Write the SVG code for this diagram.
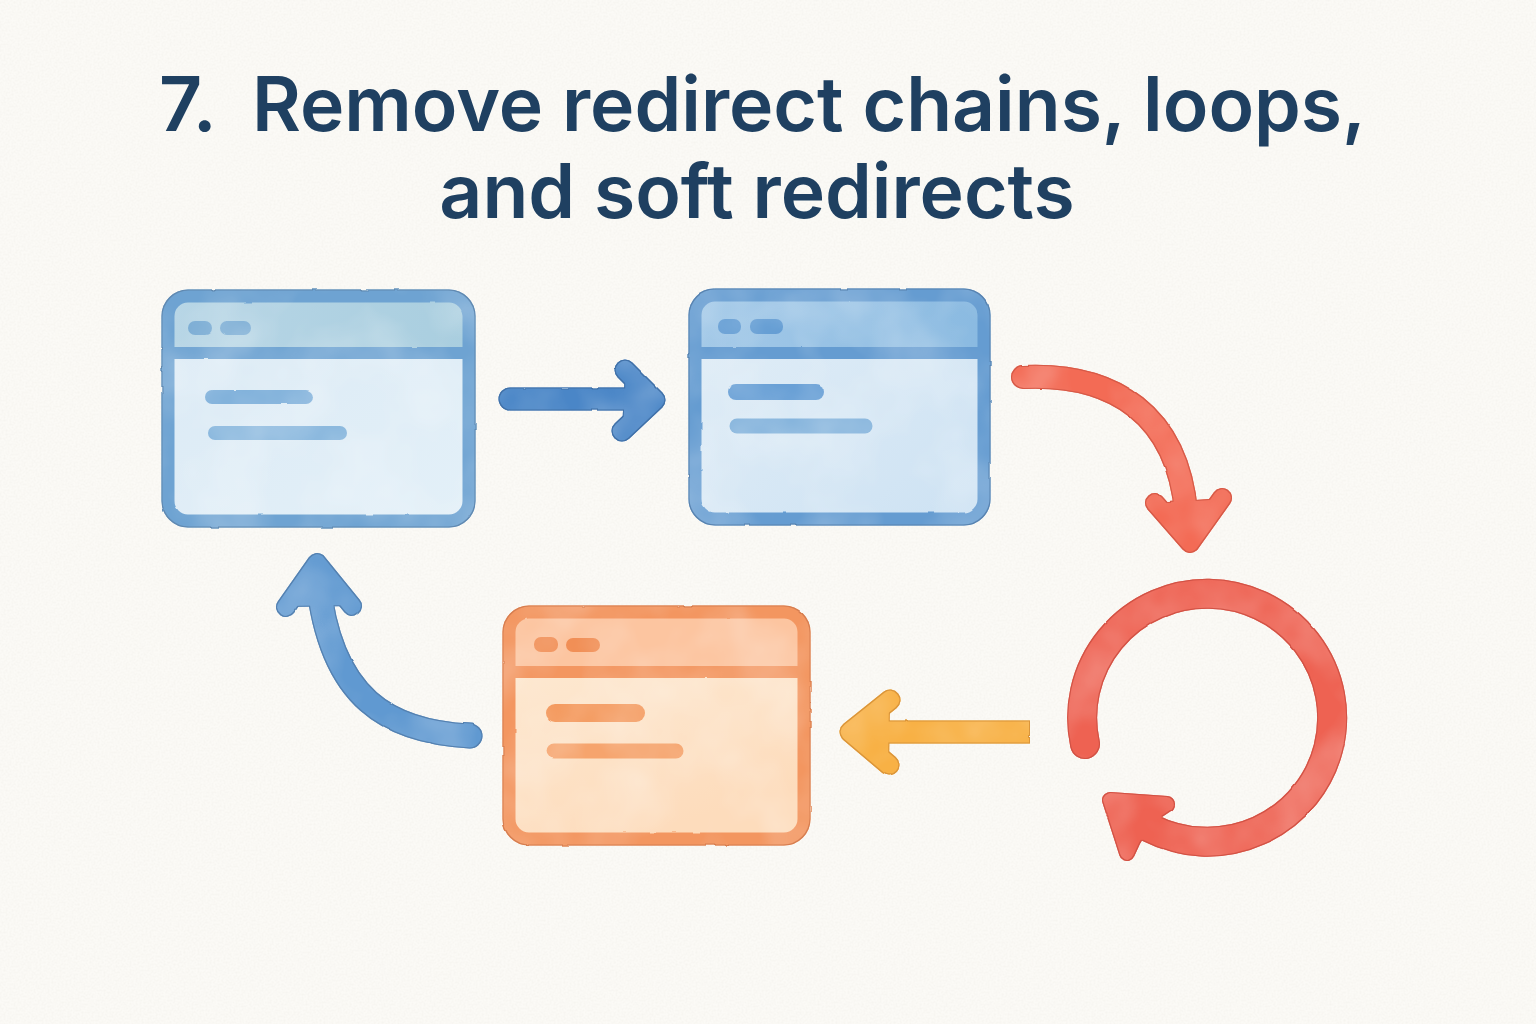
<svg xmlns="http://www.w3.org/2000/svg" width="1536" height="1024" viewBox="0 0 1536 1024">
<defs>
<linearGradient id="hb1" x1="0" x2="1" y1="0" y2="0"><stop offset="0" stop-color="#b8d6e6"/><stop offset="1" stop-color="#a9cedf"/></linearGradient>
<linearGradient id="hb2" x1="0" x2="1" y1="0" y2="0"><stop offset="0" stop-color="#a3c9e8"/><stop offset="1" stop-color="#8abae1"/></linearGradient>
<linearGradient id="b1" x1="0" x2="1" y1="0" y2="1"><stop offset="0" stop-color="#dbeaf5"/><stop offset="1" stop-color="#e3f0f8"/></linearGradient>
<linearGradient id="b2" x1="0" x2="1" y1="0" y2="1"><stop offset="0" stop-color="#e2eef7"/><stop offset="1" stop-color="#cde2f3"/></linearGradient>
<linearGradient id="b3" x1="0" x2="0.4" y1="0" y2="1"><stop offset="0" stop-color="#fdecd7"/><stop offset="1" stop-color="#fddcbc"/></linearGradient>
<filter id="wc" x="-5%" y="-5%" width="110%" height="110%" color-interpolation-filters="sRGB">
<feTurbulence type="fractalNoise" baseFrequency="0.05" numOctaves="2" seed="4" result="rough"/>
<feDisplacementMap in="SourceGraphic" in2="rough" scale="2" xChannelSelector="R" yChannelSelector="G" result="src"/>
<feTurbulence type="fractalNoise" baseFrequency="0.015" numOctaves="3" seed="9" result="cloud"/>
<feColorMatrix in="cloud" type="matrix" values="0 0 0 0 1  0 0 0 0 1  0 0 0 0 1  0.45 0 0 0 -0.15" result="light"/>
<feComposite in="light" in2="src" operator="in" result="lightIn"/>
<feMorphology in="src" operator="erode" radius="1" result="inner"/>
<feColorMatrix in="src" type="matrix" values="0.88 0 0 0 0  0 0.84 0 0 0  0 0 0.84 0 0  0 0 0 1 0" result="dark"/>
<feComposite in="dark" in2="inner" operator="out" result="edge"/>
<feMerge><feMergeNode in="src"/><feMergeNode in="lightIn"/><feMergeNode in="edge"/></feMerge>
</filter>
<filter id="paper" x="0" y="0" width="100%" height="100%" color-interpolation-filters="sRGB">
<feTurbulence type="fractalNoise" baseFrequency="0.5" numOctaves="3" seed="2"/>
<feColorMatrix type="matrix" values="0 0 0 0 0.6  0 0 0 0 0.57  0 0 0 0 0.5  0.1 0 0 0 -0.035"/>
</filter>
</defs>
<style>
.t{font-family:"Inter","Liberation Sans",sans-serif;font-size:75px;font-weight:600;fill:#1f4061}
.l{fill:none;stroke-linecap:round;stroke-linejoin:round}
.c{stroke-linecap:round;stroke-linejoin:round}
.h{stroke-linejoin:round;stroke-width:16}
.w{filter:url(#wc)}
</style>
<rect width="1536" height="1024" fill="#fbfaf6"/>
<rect width="1536" height="1024" filter="url(#paper)"/>
<g id="title">
<text class="t" y="131"><tspan x="159">7.</tspan><tspan x="252">Remove redirect chains, loops,</tspan></text>
<text class="t" x="757" y="218" text-anchor="middle">and soft redirects</text>
</g>
<g id="node-1" class="w">
<rect x="168" y="296" width="301" height="225" rx="20" fill="url(#b1)"/>
<path d="M168 353V316a20 20 0 0 1 20-20H449a20 20 0 0 1 20 20V353Z" fill="url(#hb1)"/>
<rect x="168" y="296" width="301" height="225" rx="20" fill="none" stroke="#6ea3d2" stroke-width="13"/>
<path d="M168 353H469" fill="none" stroke="#6ea3d2" stroke-width="12"/>
<rect x="188" y="321" width="24" height="14" rx="7" fill="#7aacd4"/>
<rect x="220" y="321" width="31" height="14" rx="7" fill="#7aacd4"/>
<path d="M212 397H306" class="l" stroke="#7dafda" stroke-width="14"/>
<path d="M215 433H340" class="l" stroke="#8ab8de" stroke-width="14"/>
</g>
<g id="node-2" class="w">
<rect x="695" y="295" width="289" height="224" rx="20" fill="url(#b2)"/>
<path d="M695 353V315a20 20 0 0 1 20-20H964a20 20 0 0 1 20 20V353Z" fill="url(#hb2)"/>
<rect x="695" y="295" width="289" height="224" rx="20" fill="none" stroke="#659cd1" stroke-width="13"/>
<path d="M695 353H984" fill="none" stroke="#659cd1" stroke-width="12"/>
<rect x="718" y="319" width="23" height="15" rx="7" fill="#659ed4"/>
<rect x="750" y="319" width="33" height="15" rx="7" fill="#659ed4"/>
<path d="M736 392H816" class="l" stroke="#69a0d6" stroke-width="16"/>
<path d="M737 426H865" class="l" stroke="#80b1db" stroke-width="15"/>
</g>
<g id="node-3" class="w">
<rect x="509" y="612" width="295" height="227" rx="20" fill="url(#b3)"/>
<path d="M509 672V632a20 20 0 0 1 20-20H784a20 20 0 0 1 20 20V672Z" fill="#fcc5a0"/>
<rect x="509" y="612" width="295" height="227" rx="20" fill="none" stroke="#f39660" stroke-width="13"/>
<path d="M509 672H804" fill="none" stroke="#f39660" stroke-width="12"/>
<rect x="534" y="637" width="24" height="15" rx="7" fill="#f18f56"/>
<rect x="566" y="638" width="34" height="14" rx="7" fill="#f18f56"/>
<path d="M555 713H636" class="l" stroke="#f4995d" stroke-width="18"/>
<path d="M554 751H676" class="l" stroke="#f6a46d" stroke-width="15"/>
</g>
<g id="connectors" class="w">
<path d="M510 399H645" class="l" stroke="#4a86c7" stroke-width="23"/>
<path d="M625 370L655 400L622 431" class="c" fill="#4a86c7" stroke="#4a86c7" stroke-width="21"/>
<path d="M1023 377C1110 373 1182 411 1187 525" class="l" stroke="#f36b55" stroke-width="24"/>
<path d="M1155 503L1190 543L1222 498" class="c" fill="#f36b55" stroke="#f36b55" stroke-width="20"/>
<path d="M1085 744A125 124 0 1 1 1150 828" class="l" stroke="#ee6252" stroke-width="30"/>
<path d="M1110 800L1167 804L1146 818L1133 840L1127 853Z" class="h" fill="#ee6252" stroke="#ee6252"/>
<path d="M1030 732H860" fill="none" stroke="#f8b145" stroke-width="23"/>
<path d="M890 700L850 732L889 765" class="c" fill="#f8b145" stroke="#f8b145" stroke-width="21"/>
<path d="M470 736C390 732 330 700 318 580" class="l" stroke="#6099d1" stroke-width="25"/>
<path d="M286 607L317 563L352 606" class="c" fill="#6099d1" stroke="#6099d1" stroke-width="20"/>
</g>
</svg>
